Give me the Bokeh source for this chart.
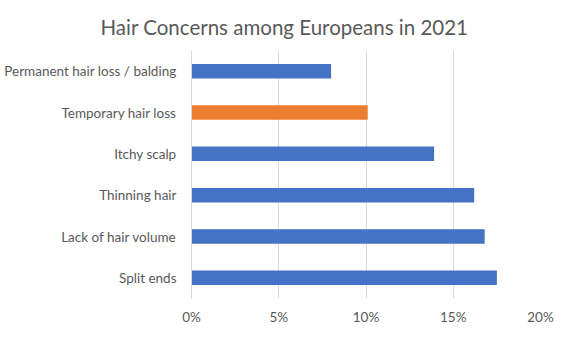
from bokeh.plotting import figure
from bokeh.models import ColumnDataSource, NumeralTickFormatter, FixedTicker, Range1d
from bokeh.embed import file_html
from bokeh.resources import INLINE

title_text = "Hair Concerns among Europeans in 2021"
categories = ["Split ends", "Lack of hair volume", "Thinning hair", "Itchy scalp",
              "Temporary hair loss", "Permanent hair loss / balding"]
values = [0.175, 0.168, 0.162, 0.139, 0.101, 0.080]
colors = ["#4472C4", "#4472C4", "#4472C4", "#4472C4", "#ED7D31", "#4472C4"]
x_ticks = [0, 0.05, 0.10, 0.15, 0.20]

src = ColumnDataSource(dict(cat=categories, val=values, color=colors))

FONT = "Lato"
GRAY = "#595959"

p = figure(width=563, height=348, y_range=categories, x_range=Range1d(0, 0.20),
           output_backend="svg", toolbar_location=None,
           min_border_left=191, min_border_right=23, min_border_bottom=50, min_border_top=8)

p.title.text = title_text
p.title.align = "left"
p.title.offset = -91
p.title.text_font = FONT
p.title.text_font_size = "20.5px"
p.title.text_font_style = "normal"
p.title.text_color = GRAY
p.title.standoff = 24

p.hbar(y="cat", right="val", left=0, height=0.35, color="color", source=src, line_color=None)

p.outline_line_color = None
p.background_fill_color = "white"
p.border_fill_color = "white"

p.ygrid.grid_line_color = None
p.xgrid.grid_line_color = "#D9D9D9"
p.xgrid.grid_line_width = 1
p.xaxis.ticker = FixedTicker(ticks=x_ticks)
p.xaxis.formatter = NumeralTickFormatter(format="0%")
p.xaxis.axis_line_color = None
p.xaxis.major_tick_line_color = None
p.xaxis.minor_tick_line_color = None
p.xaxis.major_label_text_font = FONT
p.xaxis.major_label_text_font_size = "13.5px"
p.xaxis.major_label_text_color = GRAY
p.xaxis.major_label_standoff = 4

p.yaxis.axis_line_color = "#D9D9D9"
p.yaxis.major_tick_line_color = None
p.yaxis.minor_tick_line_color = None
p.yaxis.major_label_text_font = FONT
p.yaxis.major_label_text_font_size = "13.5px"
p.yaxis.major_label_text_color = GRAY
p.yaxis.major_label_standoff = 9
p.y_range.range_padding = 0

open("out.html", "w").write(file_html(p, INLINE))
